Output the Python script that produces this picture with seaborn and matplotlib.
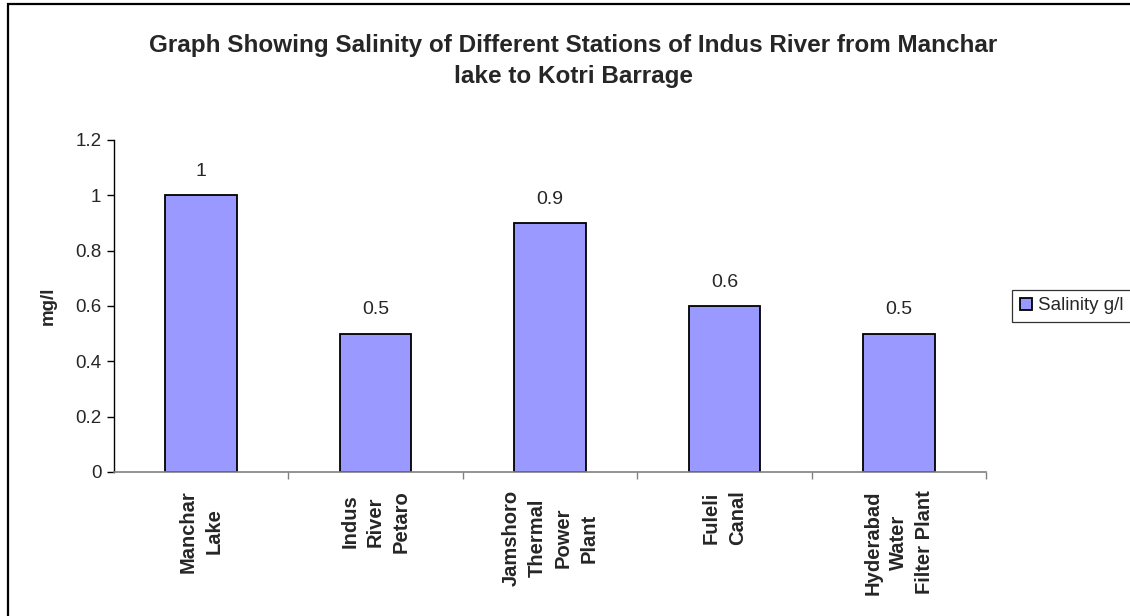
import matplotlib
matplotlib.use("Agg")
import matplotlib.pyplot as plt
from matplotlib.patches import Rectangle
from matplotlib.ticker import FixedLocator
import seaborn as sns
import pandas as pd

# Station names and measured salinity
stations = [
    "Manchar\nLake",
    "Indus\nRiver\nPetaro",
    "Jamshoro\nThermal\nPower\nPlant",
    "Fuleli\nCanal",
    "Hyderabad\nWater\nFilter Plant",
]
salinity = [1.0, 0.5, 0.9, 0.6, 0.5]
yticks = [0, 0.2, 0.4, 0.6, 0.8, 1.0, 1.2]
ytick_labels = ["0", "0.2", "0.4", "0.6", "0.8", "1", "1.2"]

title = ("Graph Showing Salinity of Different Stations of Indus River from Manchar\n"
         "lake to Kotri Barrage")
series_name = "Salinity g/l"

sns.set_style("white")
plt.rcParams["font.family"] = ["Liberation Sans", "DejaVu Sans"]

df = pd.DataFrame({"station": stations, "salinity": salinity})

W, H = 1130, 616
fig = plt.figure(figsize=(W / 100, H / 100), dpi=100)
ax = fig.add_axes([114 / W, 1 - 472 / H, (986 - 114) / W, (472 - 140) / H])

sns.barplot(data=df, x="station", y="salinity", color="#9999FF",
            edgecolor="black", linewidth=1.3, width=0.41, ax=ax,
            saturation=1, label=series_name)

ax.set_xlim(-0.5, len(stations) - 0.5)
ax.set_ylim(0, 1.2)
ax.set_yticks(yticks)
ax.set_yticklabels(ytick_labels, fontsize=13.5)
ax.set_xlabel("")
ax.set_ylabel("mg/l", fontsize=13.5, fontweight="bold", labelpad=13)

# Category names, rotated and bold
ax.set_xticks(range(len(stations)))
ax.set_xticklabels(stations, rotation=90, fontsize=14.5, fontweight="bold",
                   ha="center", va="top", multialignment="center",
                   linespacing=1.45)
ax.tick_params(axis="x", which="major", length=0, pad=13)
ax.xaxis.set_minor_locator(FixedLocator([i + 0.5 for i in range(len(stations))]))
ax.tick_params(axis="x", which="minor", bottom=True, length=5, width=1,
               color="#808080", direction="out")
ax.tick_params(axis="y", left=True, length=5, width=1, color="black",
               direction="out", pad=4)

for side in ("top", "right"):
    ax.spines[side].set_visible(False)
ax.spines["left"].set_color("black")
ax.spines["left"].set_linewidth(1)
ax.spines["bottom"].set_color("#808080")
ax.spines["bottom"].set_linewidth(1.2)

# Value labels above bars
ax.bar_label(ax.containers[0], fmt="%g", padding=11, fontsize=14)

fig.text(573 / W, 1 - 61 / H, title, ha="center", va="center",
         fontsize=17.5, fontweight="bold", linespacing=1.4)

# Legend, vertically centred on the plot area
leg = ax.legend(loc="center left", bbox_to_anchor=(1012 / W, 1 - 306 / H),
                bbox_transform=fig.transFigure, frameon=True, fancybox=False,
                fontsize=13.5, handlelength=0.62, handleheight=0.62,
                handletextpad=0.32, borderpad=0.42, borderaxespad=0)
leg.get_frame().set_edgecolor("black")
leg.get_frame().set_linewidth(0.9)

# Outer chart-area border
fig.patches.append(Rectangle((8 / W, -0.02), 1.2, 1 - 4 / H + 0.02,
                             transform=fig.transFigure, fill=False,
                             edgecolor="black", linewidth=1.6))

fig.savefig("out.png", dpi=100)
